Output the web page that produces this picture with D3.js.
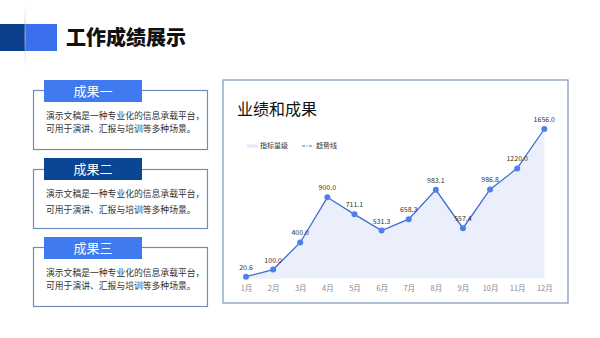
<!DOCTYPE html>
<html><head><meta charset="utf-8">
<script src="https://cdn.jsdelivr.net/npm/d3@7"></script>
<style>body{margin:0;background:#fff;}svg{display:block;font-family:"Noto Sans CJK SC","Noto Sans",sans-serif;}</style>
</head><body>
<svg id="c" width="600" height="338"></svg>
<script>
const months = ["1月","2月","3月","4月","5月","6月","7月","8月","9月","10月","11月","12月"];
const values = [20.6,100.0,400.0,900.0,711.1,531.3,658.3,983.1,557.4,986.8,1220.0,1656.0];
const legendLabels = ["指标量级","趋势线"];
const boxTitles = ["成果一","成果二","成果三"];
const boxText = ["演示文稿是一种专业化的信息承载平台，","可用于演讲、汇报与培训等多种场景。"];
const pageTitle = "工作成绩展示";
const chartTitle = "业绩和成果";

const svg = d3.select("#c");
const defs = svg.append("defs");
const vg = defs.append("linearGradient").attr("id","vg").attr("x1",0).attr("x2",0).attr("y1",0).attr("y2",1);
vg.append("stop").attr("offset","0").attr("stop-color","#ccc").attr("stop-opacity",0);
vg.append("stop").attr("offset","0.5").attr("stop-color","#aab").attr("stop-opacity",0.9);
vg.append("stop").attr("offset","1").attr("stop-color","#ccc").attr("stop-opacity",0);

// header
svg.append("rect").attr("x",0).attr("y",24).attr("width",25).attr("height",27).attr("fill","#0b3f8c");
svg.append("rect").attr("x",25).attr("y",24).attr("width",32).attr("height",27).attr("fill","#3a70ee");
svg.append("rect").attr("x",24.5).attr("y",4).attr("width",1.2).attr("height",64).attr("fill","url(#vg)");
svg.append("text").attr("x",66).attr("y",45).attr("font-size",20).attr("font-weight",900)
  .attr("fill","#111").attr("font-family","'Noto Sans CJK SC',sans-serif").text(pageTitle);

// boxes
const boxes = [
  {ly:80, by:90, bh:59, t1:119, t2:132, col:"#3f7af0"},
  {ly:158, by:169, bh:59, t1:197, t2:213, col:"#0b4694"},
  {ly:237, by:247, bh:59, t1:276, t2:289, col:"#3f7af0"}
];
boxes.forEach((b,i)=>{
  svg.append("rect").attr("x",33.5).attr("y",b.by+0.5).attr("width",174).attr("height",b.bh)
    .attr("fill","#fff").attr("stroke","#6f8db8").attr("stroke-width",1.2);
  svg.append("rect").attr("x",44).attr("y",b.ly).attr("width",98).attr("height",22).attr("fill",b.col);
  svg.append("text").attr("x",93).attr("y",b.ly+16).attr("text-anchor","middle").attr("font-size",13)
    .attr("fill","#fff").text(boxTitles[i]);
  svg.append("text").attr("x",46).attr("y",b.t1).attr("font-size",8.8).attr("fill","#333").text(boxText[0]);
  svg.append("text").attr("x",46).attr("y",b.t2).attr("font-size",8.8).attr("fill","#333").text(boxText[1]);
});

// chart panel
svg.append("rect").attr("x",223).attr("y",80).attr("width",345).attr("height",223)
  .attr("fill","#fff").attr("stroke","#7d97bb").attr("stroke-width",1.2);
svg.append("text").attr("x",237).attr("y",115).attr("font-size",16).attr("fill","#111").text(chartTitle);

const x = d3.scalePoint().domain(months).range([246,544.3]);
const y = d3.scaleLinear().domain([0,1656]).range([278.6,129]);

const area = d3.area().x((d,i)=>x(months[i])).y0(y(0)).y1(d=>y(d));
const line = d3.line().x((d,i)=>x(months[i])).y(d=>y(d));
svg.append("path").datum(values).attr("d",area).attr("fill","#ebeffc");
svg.append("path").datum(values).attr("d",line).attr("fill","none").attr("stroke","#3b6cd6").attr("stroke-width",1.3);
svg.selectAll("circle.p").data(values).join("circle").attr("class","p")
  .attr("cx",(d,i)=>x(months[i])).attr("cy",d=>y(d)).attr("r",3).attr("fill","#4f80ea");
svg.selectAll("text.v").data(values).join("text").attr("class","v")
  .attr("x",(d,i)=>x(months[i])).attr("y",d=>y(d)-7).attr("text-anchor","middle")
  .attr("font-size",7).attr("fill","#333").text(d=>d.toFixed(1));

const xAxis = svg.append("g").attr("transform","translate(0,286)")
  .call(d3.axisBottom(x).tickSize(0).tickPadding(0));
xAxis.select(".domain").remove();
xAxis.selectAll("text").attr("font-size",7.5).attr("fill","#888").attr("dy","0.71em")
  .attr("font-family","'Noto Sans CJK SC',sans-serif");

// legend
svg.append("rect").attr("x",247).attr("y",144.5).attr("width",11).attr("height",3).attr("fill","#e3e9fb");
svg.append("text").attr("x",260).attr("y",148.3).attr("font-size",7).attr("fill","#333").text(legendLabels[0]);
svg.append("line").attr("x1",302).attr("x2",314).attr("y1",146).attr("y2",146)
  .attr("stroke","#3b6cd6").attr("stroke-width",1.2).attr("stroke-dasharray","3,1.5,1,1.5");
svg.append("text").attr("x",316).attr("y",148.3).attr("font-size",7).attr("fill","#333").text(legendLabels[1]);
</script>
</body></html>
